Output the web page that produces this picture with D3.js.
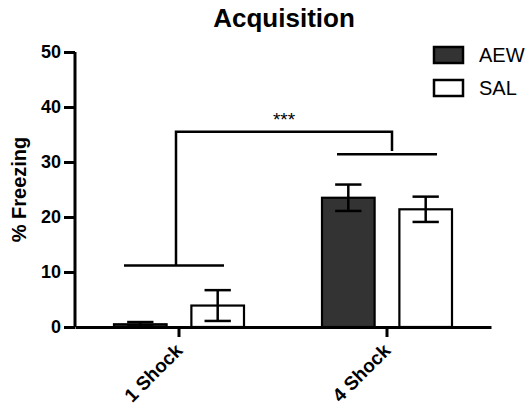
<!DOCTYPE html>
<html>
<head>
<meta charset="utf-8">
<script src="https://cdn.jsdelivr.net/npm/d3@7"></script>
<style>
  body { margin: 0; background: #fff; }
  text { font-family: "Liberation Sans", Arial, sans-serif; }
</style>
</head>
<body>
<svg id="chart" width="532" height="410"></svg>
<script>
// data
var groups = ["1 Shock", "4 Shock"];
var seriesNames = ["AEW", "SAL"];
var seriesFill = ["#333333", "#ffffff"];
var aewMean = [0.5, 23.5];
var aewSem = [0.4, 2.4];
var salMean = [3.9, 21.4];
var salSem = [2.8, 2.3];
var yTicks = [0, 10, 20, 30, 40, 50];
// significance lines (% freezing levels)
var groupLineLevel = [11.2, 31.4];
var bracketLevel = 35.5;
var starsLabel = "***";

var svg = d3.select("#chart");
var plotLeft = 75, plotRight = 491, plotTop = 52, plotBottom = 327;

var x = d3.scaleBand().domain(groups).range([plotLeft, plotRight]);
var xSub = d3.scaleBand().domain(seriesNames).range([-65, 65]).paddingInner(0.32);
var y = d3.scaleLinear().domain([0, 50]).range([plotBottom, plotTop]);

// title
svg.append("text")
  .attr("x", 284).attr("y", 27)
  .attr("text-anchor", "middle")
  .style("font-size", "26px").style("font-weight", "bold")
  .text("Acquisition");

// y label
svg.append("text")
  .attr("transform", "translate(26," + y(25) + ") rotate(-90)")
  .attr("text-anchor", "middle")
  .style("font-size", "20px").style("font-weight", "bold")
  .text("% Freezing");

// bars
var rows = [];
groups.forEach(function(g, i) {
  rows.push({ g: g, s: "AEW", m: aewMean[i], e: aewSem[i], fill: seriesFill[0] });
  rows.push({ g: g, s: "SAL", m: salMean[i], e: salSem[i], fill: seriesFill[1] });
});

var bars = svg.append("g");
rows.forEach(function(d) {
  var cx = x(d.g) + x.bandwidth() / 2;
  var bx = cx + xSub(d.s);
  var bw = xSub.bandwidth();
  bars.append("rect")
    .attr("x", bx).attr("y", y(d.m))
    .attr("width", bw).attr("height", y(0) - y(d.m))
    .attr("fill", d.fill).attr("stroke", "#000").attr("stroke-width", 2.2);
  var mid = bx + bw / 2, cap = bw / 4;
  bars.append("line")
    .attr("x1", mid).attr("x2", mid)
    .attr("y1", y(d.m - d.e)).attr("y2", y(d.m + d.e))
    .attr("stroke", "#000").attr("stroke-width", 2.5);
  [d.m - d.e, d.m + d.e].forEach(function(v) {
    bars.append("line")
      .attr("x1", mid - cap).attr("x2", mid + cap)
      .attr("y1", y(v)).attr("y2", y(v))
      .attr("stroke", "#000").attr("stroke-width", 2.5);
  });
});

// significance
var sig = svg.append("g").attr("stroke", "#000").attr("stroke-width", 2.5).attr("fill", "none");
groups.forEach(function(g, i) {
  var cx = x(g) + x.bandwidth() / 2 - (i == 0 ? 5 : 0);
  sig.append("line")
    .attr("x1", cx - 50).attr("x2", cx + 50)
    .attr("y1", y(groupLineLevel[i])).attr("y2", y(groupLineLevel[i]));
});
var b1 = x(groups[0]) + x.bandwidth() / 2 - 3;
var b2 = x(groups[1]) + x.bandwidth() / 2 + 5;
sig.append("path")
  .attr("d", "M" + b1 + "," + y(groupLineLevel[0]) + "V" + y(bracketLevel) +
             "H" + b2 + "V" + y(groupLineLevel[1] + 0.6));
svg.append("text")
  .attr("x", (b1 + b2) / 2).attr("y", y(bracketLevel) - 6)
  .attr("text-anchor", "middle")
  .style("font-size", "19px")
  .text(starsLabel);

// axes
var yAxis = svg.append("g")
  .attr("transform", "translate(" + plotLeft + ",0)")
  .call(d3.axisLeft(y).tickValues(yTicks).tickSize(11).tickPadding(3));
var xAxis = svg.append("g")
  .attr("transform", "translate(0," + plotBottom + ")")
  .call(d3.axisBottom(x).tickSize(10).tickSizeOuter(0).tickPadding(2));

[yAxis, xAxis].forEach(function(a) {
  a.select(".domain").attr("stroke", "#000").attr("stroke-width", 3);
  a.selectAll(".tick line").attr("stroke", "#000").attr("stroke-width", 3);
  a.selectAll("text").attr("fill", "#000")
    .style("font-family", "Liberation Sans, Arial, sans-serif")
    .style("font-size", "18px").style("font-weight", "bold");
});
yAxis.select(".domain").attr("d", "M0," + plotBottom + "V" + plotTop);
xAxis.selectAll(".tick text")
  .style("font-size", "19px")
  .attr("text-anchor", "end")
  .attr("dy", "0.35em")
  .attr("transform", "translate(0,20) rotate(-45)")
  .attr("y", 0).attr("x", 0);

// legend
var legend = svg.append("g");
seriesNames.forEach(function(s, i) {
  var ly = 47 + i * 33;
  legend.append("rect")
    .attr("x", 434).attr("y", ly).attr("width", 29).attr("height", 16)
    .attr("fill", seriesFill[i]).attr("stroke", "#000").attr("stroke-width", 2.5);
  legend.append("text")
    .attr("x", 479).attr("y", ly + 15)
    .style("font-size", "20px")
    .text(s);
});
</script>
</body>
</html>
